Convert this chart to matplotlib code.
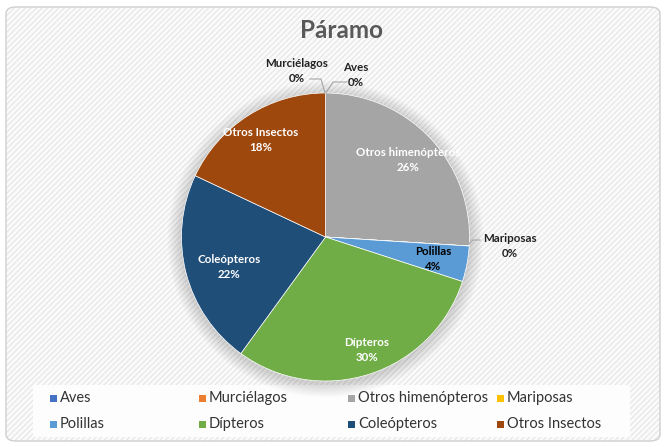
import matplotlib
matplotlib.use("Agg")
import matplotlib.pyplot as plt
from matplotlib.patches import FancyBboxPatch, Rectangle, Ellipse

categories = ["Aves", "Murciélagos", "Otros himenópteros", "Mariposas",
              "Polillas", "Dípteros", "Coleópteros", "Otros Insectos"]
values = [0.001, 0.001, 26, 0.001, 4, 30, 22, 18]
pct_labels = ["0%", "0%", "26%", "0%", "4%", "30%", "22%", "18%"]
colors = ["#4472C4", "#ED7D31", "#A5A5A5", "#FFC000",
          "#5B9BD5", "#70AD47", "#1F4E79", "#9E480E"]

plt.rcParams['font.family'] = ['Lato', 'DejaVu Sans']
plt.rcParams['hatch.linewidth'] = 0.6

W, H = 666, 447
fig = plt.figure(figsize=(W / 100, H / 100), dpi=100)
fig.patch.set_facecolor("white")

# chart background with rounded border and diagonal hatch
bg = FancyBboxPatch((6 / W, 6 / H), 654 / W, 434 / H,
                    boxstyle="round,pad=0,rounding_size=0.015",
                    transform=fig.transFigure, facecolor="#fafafa",
                    edgecolor="#e0e0e0", hatch="//////", linewidth=0,
                    zorder=-10)
fig.patches.append(bg)
border = FancyBboxPatch((6 / W, 6 / H), 654 / W, 434 / H,
                        boxstyle="round,pad=0,rounding_size=0.015",
                        transform=fig.transFigure, facecolor="none",
                        edgecolor="#cfcfcf", linewidth=1.0, zorder=-9)
fig.patches.append(border)
# legend background band
legbg = Rectangle((33 / W, 1 - 437 / H), 597 / W, 52 / H,
                  transform=fig.transFigure, facecolor="#fdfdfd",
                  edgecolor="none", zorder=-8)
fig.patches.append(legbg)

# pie axes
cx, cy, r = 325.5, 237.0, 144.0
ax = fig.add_axes([(cx - r) / W, (H - cy - r) / H, 2 * r / W, 2 * r / H])
ax.set_zorder(2)

# soft shadow behind the pie
for k in range(8):
    rad = 1.0 + 0.012 * (k + 1)
    ax.add_patch(Ellipse((0.0, -0.015), 2 * rad, 2 * rad, facecolor="black",
                         alpha=0.018, edgecolor="none", zorder=0,
                         clip_on=False))

wedges, _ = ax.pie(values, colors=colors, startangle=90, counterclock=False,
                   wedgeprops=dict(edgecolor="white", linewidth=0.5,
                                   zorder=2))
ax.set_aspect('auto')
ax.set_xlim(-1, 1)
ax.set_ylim(-1, 1)
ax.axis('off')


def to_data(px, py):
    return (px - cx) / r, (cy - py) / r


label_pos = {
    "Otros himenópteros": (408, 160, "white"),
    "Dípteros": (367, 350, "white"),
    "Coleópteros": (229, 267, "white"),
    "Otros Insectos": (261, 140, "white"),
    "Polillas": (433, 259, "black"),
    "Murciélagos": (297, 71, "#222222"),
    "Aves": (356, 75, "#222222"),
    "Mariposas": (510, 246, "#222222"),
}
for cat, pl in zip(categories, pct_labels):
    px, py, col = label_pos[cat]
    x, y = to_data(px, py)
    ax.text(x, y, f"{cat}\n{pl}", ha="center", va="center", color=col,
            fontsize=8.3, fontweight="bold", linespacing=1.45, clip_on=False,
            zorder=5)

# leader lines for zero slices
leaders = [((310, 79), (321, 79), (325, 93)),
           ((347, 82), (333, 82), (326, 93)),
           ((480, 240), (473, 240), (469, 244))]
for pts in leaders:
    xs, ys = zip(*[to_data(*p) for p in pts])
    ax.plot(xs, ys, color="#a6a6a6", linewidth=0.8, clip_on=False, zorder=5)

fig.text(342 / W, 1 - 31 / H, "Páramo", ha="center", va="center",
         fontsize=17.5, fontweight="bold", color="#595959")

# legend drawn as a fixed grid (4 columns x 2 rows)
col_x = [50, 199, 348, 497]
row_y = [398, 424]
for i, (cat, c) in enumerate(zip(categories, colors)):
    rr, k = divmod(i, 4)
    x0, y0 = col_x[k], row_y[rr]
    fig.patches.append(Rectangle((x0 / W, 1 - (y0 + 3.5) / H), 7 / W, 7 / H,
                                 transform=fig.transFigure, facecolor=c,
                                 edgecolor="none", zorder=3))
    fig.text((x0 + 10) / W, 1 - y0 / H, cat, ha="left", va="center",
             fontsize=10.5, color="#333333")

fig.savefig("out.png", dpi=100)
